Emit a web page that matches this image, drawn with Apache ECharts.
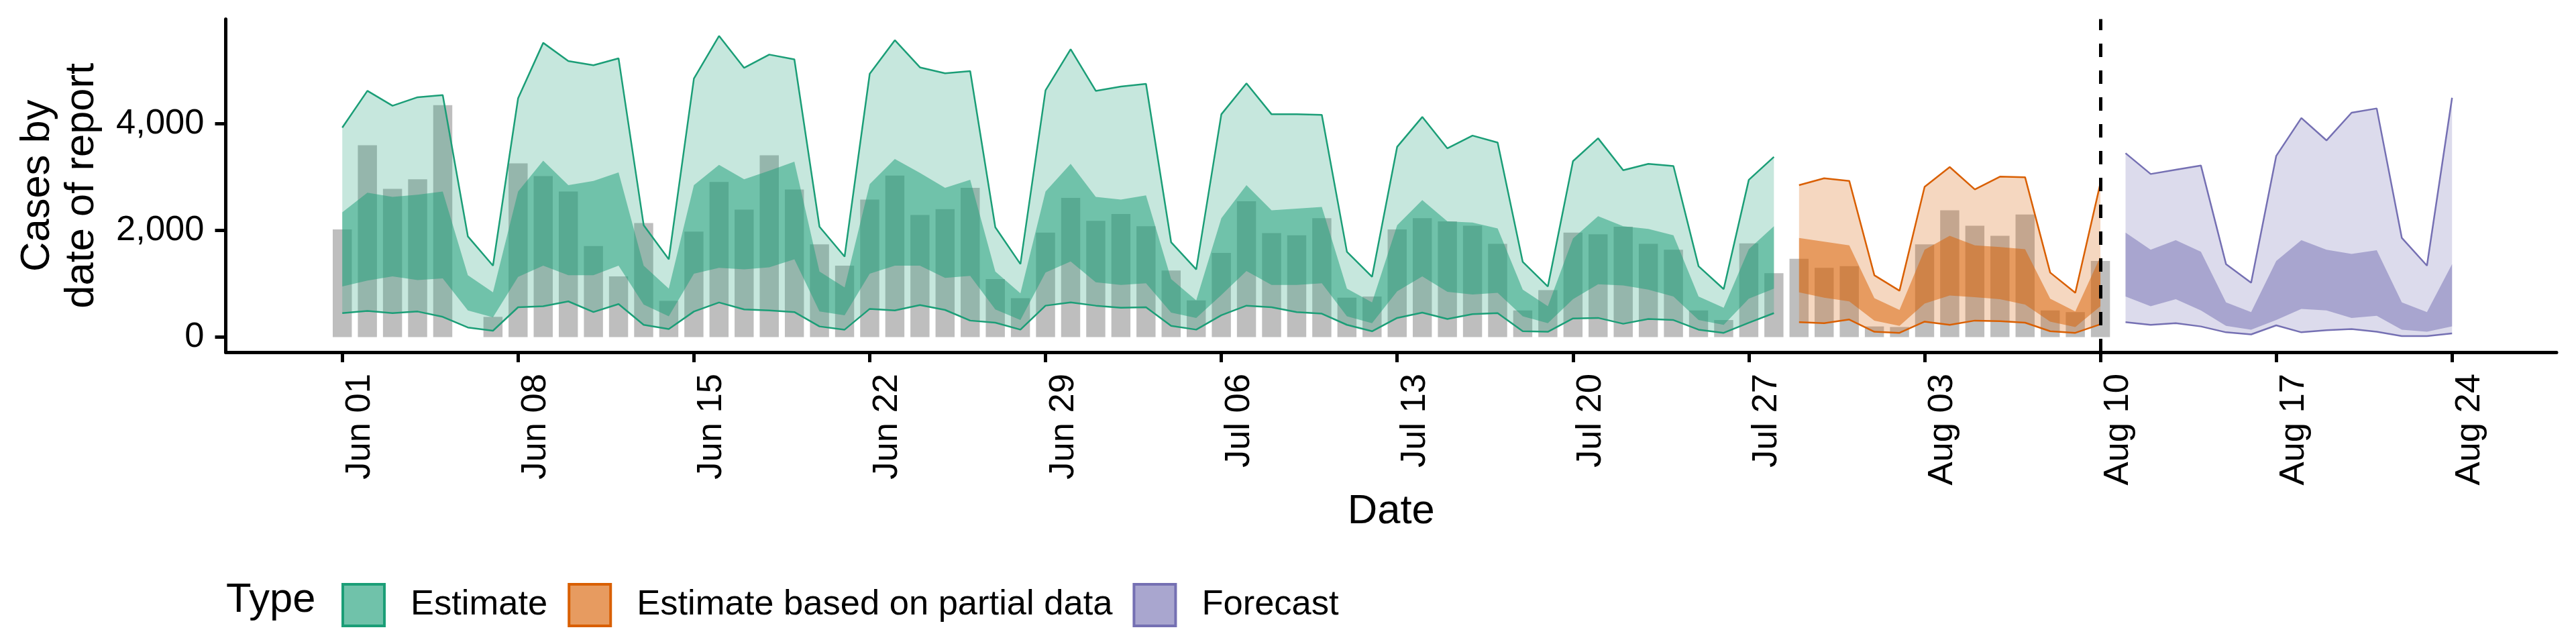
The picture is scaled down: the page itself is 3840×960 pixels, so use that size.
<!DOCTYPE html>
<html lang="en" style="height: 100%">
<head>
  <meta charset="utf-8">
</head>
<body style="height: 100%; margin: 0">
  <div id="container" style="height: 100%"></div>

  <script type="text/javascript" src="https://cdn.jsdelivr.net/npm/echarts@6/dist/echarts.min.js"></script>

  <script type="text/javascript">
    // x is the day number, day 0 = Jun 01; arrays hold one value per day from their start day
    var tickDays = [0, 7, 14, 21, 28, 35, 42, 49, 56, 63, 70, 77, 84];
    var tickLabels = ['Jun 01', 'Jun 08', 'Jun 15', 'Jun 22', 'Jun 29', 'Jul 06', 'Jul 13',
      'Jul 20', 'Jul 27', 'Aug 03', 'Aug 10', 'Aug 17', 'Aug 24'];
    var yTicks = [0, 2000, 4000];
    var lastDataDay = 70; // Aug 10

    // reported cases, days 0-70
    var reported = [2020, 3600, 2780, 2960, 4350, null, 380, 3260, 3020, 2730, 1710, 1140, 2140, 680,
      1980, 2910, 2390, 3410, 2770, 1740, 1340, 2580, 3030, 2290, 2400, 2800, 1090, 730,
      1960, 2610, 2180, 2310, 2080, 1250, 690, 1580, 2550, 1950, 1910, 2230, 740,
      760, 2020, 2230, 2170, 2090, 1750, 500, 880, 1960, 1930, 2070, 1750, 1640, 500, 320, 1760, 1200,
      1470, 1300, 1330, 200, 190, 1740, 2380, 2090, 1900, 2300, 500, 470, 1430];

    // Estimate, days 0-57
    var estStart = 0;
    var estUpper90 = [3930, 4620, 4340, 4500, 4540, 1890, 1340, 4480, 5520, 5180, 5100, 5230, 2100, 1460,
      4850, 5650, 5050, 5300, 5210, 2070, 1510, 4940, 5570, 5060, 4950, 4990, 2060, 1370,
      4630, 5400, 4620, 4700, 4750, 1780, 1270, 4180, 4760, 4180, 4180, 4170, 1600,
      1130, 3570, 4130, 3540, 3780, 3650, 1410, 950, 3300, 3730, 3130, 3250, 3210, 1330, 900, 2950, 3380];
    var estUpper50 = [2340, 2710, 2630, 2670, 2730, 1160, 840, 2730, 3310, 2850, 2930, 3090, 1340, 910,
      2850, 3230, 2960, 3120, 3290, 1230, 930, 2870, 3340, 3080, 2800, 2950, 1230, 820,
      2730, 3250, 2630, 2580, 2660, 1090, 690, 2230, 2850, 2380, 2410, 2440, 910,
      650, 2100, 2570, 2170, 2150, 2040, 890, 580, 1850, 2270, 2080, 2030, 1910, 760, 550, 1650, 2080];
    var estLower50 = [950, 1060, 1140, 1070, 1100, 500, 370, 1130, 1340, 1160, 1160, 1340, 610, 390,
      1190, 1300, 1270, 1310, 1460, 480, 410, 1190, 1340, 1340, 1110, 1150, 520, 320,
      1210, 1420, 1030, 980, 1010, 460, 360, 790, 1240, 980, 980, 1010, 390,
      260, 860, 1140, 850, 800, 830, 390, 260, 710, 990, 970, 890, 760, 320, 230, 720, 910];
    var estLower90 = [450, 490, 450, 480, 380, 180, 120, 560, 580, 670, 470, 620, 230, 150,
      480, 650, 520, 500, 470, 200, 140, 530, 500, 600, 510, 310, 270, 140,
      590, 650, 590, 550, 560, 210, 140, 410, 590, 560, 470, 440, 230,
      110, 360, 460, 340, 430, 450, 110, 100, 350, 360, 250, 340, 320, 140, 80, 270, 450];

    // Estimate based on partial data, days 58-70
    var partStart = 58;
    var partUpper90 = [2850, 2980, 2930, 1160, 870, 2820, 3190, 2770, 3010, 3000, 1210, 830, 2890];
    var partUpper50 = [1860, 1790, 1720, 730, 510, 1640, 1900, 1720, 1690, 1650, 720, 480, 1510];
    var partLower50 = [840, 740, 670, 310, 210, 630, 780, 750, 710, 610, 290, 190, 580];
    var partLower90 = [280, 260, 330, 100, 80, 290, 230, 310, 300, 270, 110, 80, 240];

    // Forecast, days 71-84
    var fcStart = 71;
    var fcUpper90 = [3450, 3060, 3140, 3220, 1370, 1020, 3400, 4110, 3690, 4210, 4290, 1860, 1340, 4490];
    var fcUpper50 = [1960, 1640, 1820, 1600, 650, 470, 1430, 1820, 1640, 1560, 1630, 650, 470, 1370];
    var fcLower50 = [760, 580, 710, 500, 210, 140, 320, 530, 500, 360, 400, 140, 100, 200];
    var fcLower90 = [280, 230, 260, 200, 90, 50, 220, 90, 130, 150, 100, 20, 20, 70];

    var FONT = 'Liberation Sans';
    var GREEN = '#1b9e77', ORANGE = '#d95f02', PURPLE = '#7570b3';

    // a ribbon = lower line + stacked width, its area filled down to the lower line.
    // value goes in column 0 so the stack sums y, not the day number
    function band(name, color, start, lower, upper, outer) {
      var edge = outer ? { color: color, width: 2.5 } : { width: 0, opacity: 0 };
      var stack = name + (outer ? '90' : '50');
      return [
        {
          name: name, type: 'line', stack: stack, symbol: 'none', silent: true,
          encode: { x: 1, y: 0 },
          lineStyle: edge,
          data: lower.map(function (v, i) { return [v, start + i]; })
        },
        {
          name: name, type: 'line', stack: stack, symbol: 'none', silent: true,
          encode: { x: 1, y: 0 },
          lineStyle: edge,
          areaStyle: { color: color, opacity: outer ? 0.25 : 0.5 },
          data: upper.map(function (v, i) { return [v - lower[i], start + i]; })
        }
      ];
    }

    var dom = document.getElementById('container');
    var myChart = echarts.init(dom, null, { renderer: 'canvas' });

    var series = [{
      name: 'Reported', type: 'bar', barWidth: '76%', silent: true,
      itemStyle: { color: '#bebebe' },
      data: reported.map(function (v, i) { return [i, v]; })
    }];
    series = series
      .concat(band('Estimate', GREEN, estStart, estLower90, estUpper90, true))
      .concat(band('Estimate based on partial data', ORANGE, partStart, partLower90, partUpper90, true))
      .concat(band('Forecast', PURPLE, fcStart, fcLower90, fcUpper90, true))
      .concat(band('Estimate', GREEN, estStart, estLower50, estUpper50, false))
      .concat(band('Estimate based on partial data', ORANGE, partStart, partLower50, partUpper50, false))
      .concat(band('Forecast', PURPLE, fcStart, fcLower50, fcUpper50, false));

    series[0].markLine = {
      silent: true, symbol: ['none', 'none'], animation: false, z: 10,
      label: { show: false },
      lineStyle: { color: '#000', width: 5, type: [20, 20] },
      data: [{ xAxis: lastDataDay }]
    };

    var option = {
      animation: false,
      textStyle: { fontFamily: FONT },
      grid: { left: 336.5, right: 29, top: 28.6, bottom: 435, outerBoundsMode: 'none' },
      xAxis: {
        type: 'value', min: -4.64, max: 88.16,
        axisLine: { show: true, onZero: false, lineStyle: { color: '#000', width: 5 } },
        axisTick: { show: true, length: 15, customValues: tickDays, lineStyle: { color: '#000', width: 5 } },
        axisLabel: {
          customValues: tickDays, rotate: 90, verticalAlign: 'top', margin: 32,
          fontSize: 52.5, color: '#000', fontFamily: FONT,
          formatter: function (v) { return tickLabels[tickDays.indexOf(v)]; }
        },
        splitLine: { show: false },
        name: 'Date', nameLocation: 'middle', nameGap: 207,
        nameTextStyle: { fontSize: 61.5, color: '#000', fontFamily: FONT }
      },
      yAxis: {
        type: 'value', min: -283, max: 5964,
        axisLine: { show: true, onZero: false, lineStyle: { color: '#000', width: 5 } },
        axisTick: { show: true, length: 16, customValues: yTicks, lineStyle: { color: '#000', width: 5 } },
        axisLabel: {
          customValues: yTicks, margin: 32, fontSize: 52.5, color: '#000', fontFamily: FONT,
          formatter: function (v) { return v.toLocaleString('en-US'); }
        },
        splitLine: { show: false },
        name: 'Cases by\ndate of report', nameLocation: 'middle', nameGap: 181,
        nameTextStyle: { fontSize: 61.5, lineHeight: 66, color: '#000', fontFamily: FONT }
      },
      legend: {
        left: 504, top: 864, orient: 'horizontal', icon: 'rect',
        itemWidth: 62, itemHeight: 62, itemGap: 30, selectedMode: false,
        textStyle: { fontSize: 52.5, color: '#000', fontFamily: FONT, padding: [0, 0, 0, 34] },
        data: [
          { name: 'Estimate', itemStyle: { color: '#70c2aa', borderColor: GREEN, borderWidth: 4 } },
          { name: 'Estimate based on partial data', itemStyle: { color: '#e79b60', borderColor: ORANGE, borderWidth: 4 } },
          { name: 'Forecast', itemStyle: { color: '#a9a6cf', borderColor: PURPLE, borderWidth: 4 } }
        ]
      },
      graphic: [{
        type: 'text', x: 337, y: 895, silent: true,
        style: { text: 'Type', fill: '#000', font: '61.5px "' + FONT + '"', verticalAlign: 'middle' }
      }],
      series: series
    };

    myChart.setOption(option);
    window.addEventListener('resize', myChart.resize);
  </script>
</body>
</html>
